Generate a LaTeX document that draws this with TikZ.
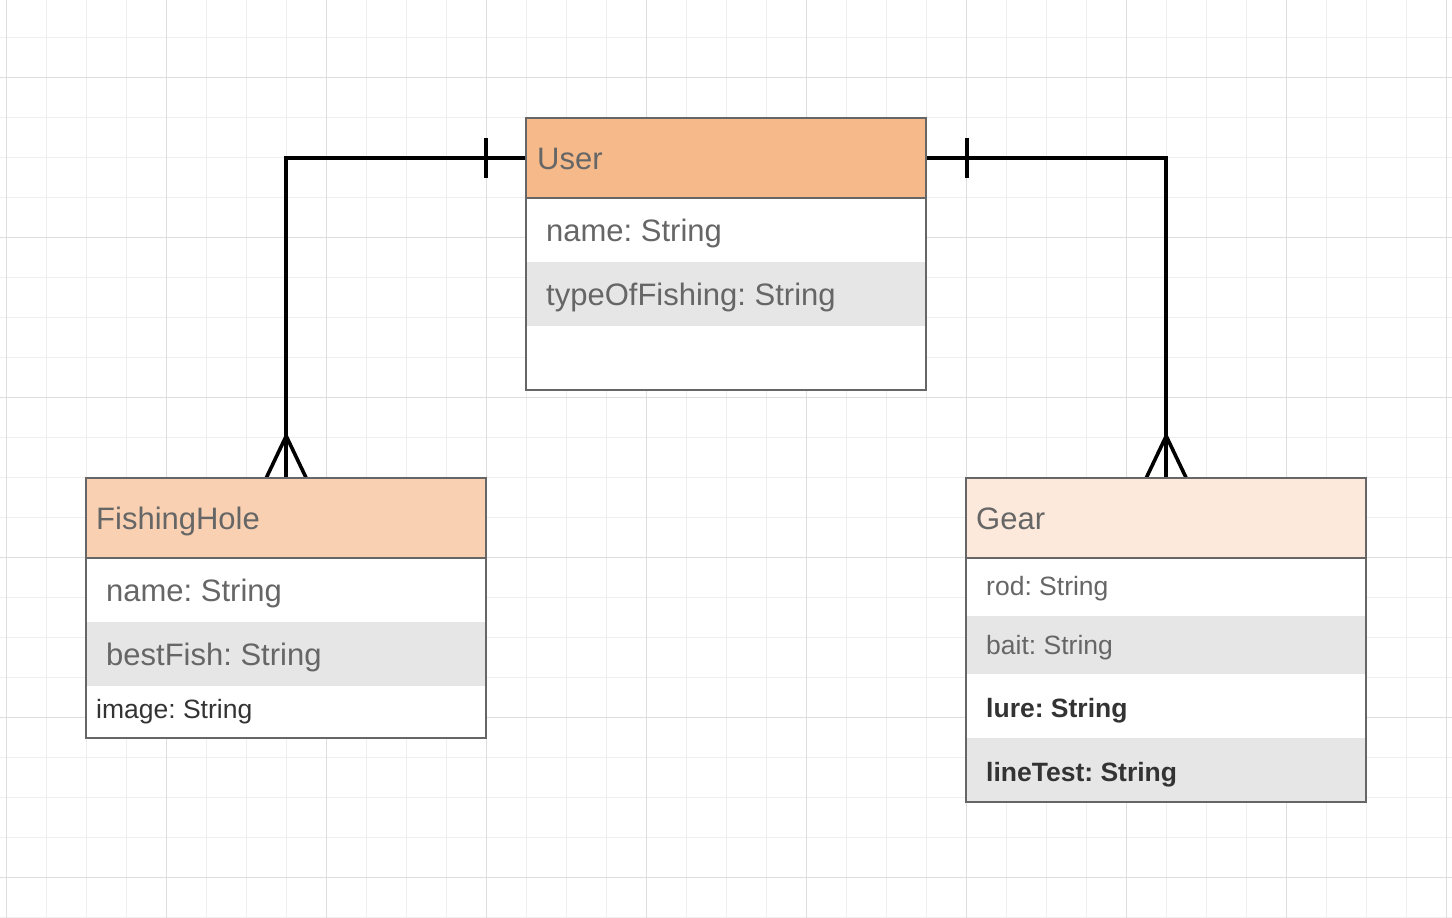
\documentclass[tikz,border=0pt]{standalone}
\usepackage{fontspec}
\setmainfont{Liberation Sans}
\usetikzlibrary{calc}
\definecolor{gridminor}{HTML}{EFEFEF}
\definecolor{gridmajor}{HTML}{DEDEDE}
\definecolor{userc}{HTML}{F5B98A}
\definecolor{fhc}{HTML}{F9D1B2}
\definecolor{gearc}{HTML}{FCE9DB}
\definecolor{rowgray}{HTML}{E6E6E6}
\definecolor{boxborder}{HTML}{666666}
\definecolor{txtgray}{HTML}{666666}
\definecolor{txtdark}{HTML}{333333}
\frenchspacing
\begin{document}
\begin{tikzpicture}[x=1pt,y=-1pt,
  minorline/.style={draw=gridminor, line width=1pt},
  majorline/.style={draw=gridmajor, line width=1pt},
  hdr/.style={draw=none, inner sep=0pt, minimum width=400pt, minimum height=80pt, anchor=north west},
  row/.style={draw=none, inner sep=0pt, minimum width=400pt, anchor=north west},
  frame/.style={draw=boxborder, line width=2pt},
  bigtxt/.style={font=\fontsize{31}{37}\selectfont, text=txtgray, inner sep=0pt, anchor=base west},
  smalltxt/.style={font=\fontsize{26.5}{32}\selectfont, text=txtgray, inner sep=0pt, anchor=base west},
  darktxt/.style={font=\fontsize{26.5}{32}\selectfont, text=txtdark, inner sep=0pt, anchor=base west},
  boldtxt/.style={font=\fontsize{26.5}{32}\selectfont\bfseries, text=txtdark, inner sep=0pt, anchor=base west},
  rel/.style={draw=black, line width=3.6pt},
  tick/.style={draw=black, line width=4pt},
  foot/.style={draw=black, line width=3.6pt, line join=bevel}
]
\useasboundingbox (0,0) rectangle (1452,918);
\fill[white] (0,0) rectangle (1452,918);
% grid
\foreach \i in {0,...,36} \draw[minorline] ({6.5+40*\i},0) -- ({6.5+40*\i},918);
\foreach \j in {1,...,23} \draw[minorline] (0,{-3+40*\j}) -- (1452,{-3+40*\j});
\foreach \i in {0,...,9} \draw[majorline] ({6.5+160*\i},0) -- ({6.5+160*\i},918);
\foreach \j in {0,...,5} \draw[majorline] (0,{77+160*\j}) -- (1452,{77+160*\j});

% User
\node[hdr, fill=userc] (userhd) at (526,118) {};
\node[row, fill=white, minimum height=64pt] (urow1) at (526,198) {};
\node[row, fill=rowgray, minimum height=64pt] (urow2) at (526,262) {};
\node[row, fill=white, minimum height=64pt] (urow3) at (526,326) {};

% FishingHole
\node[hdr, fill=fhc] (fhhd) at (86,478) {};
\node[row, fill=white, minimum height=64pt] (frow1) at (86,558) {};
\node[row, fill=rowgray, minimum height=64pt] (frow2) at (86,622) {};
\node[row, fill=white, minimum height=52pt] (frow3) at (86,686) {};

% Gear
\node[hdr, fill=gearc] (gearhd) at (966,478) {};
\node[row, fill=white, minimum height=58pt] (grow1) at (966,558) {};
\node[row, fill=rowgray, minimum height=58pt] (grow2) at (966,616) {};
\node[row, fill=white, minimum height=64pt] (grow3) at (966,674) {};
\node[row, fill=rowgray, minimum height=64pt] (grow4) at (966,738) {};

% connectors
\coordinate (ltick) at ($(userhd.west)+(-40,0)$);
\coordinate (rtick) at ($(userhd.east)+(41,0)$);
\draw[rel] (userhd.west) -- (userhd.west -| fhhd.north) -- (fhhd.north);
\draw[tick] ($(ltick)+(0,-20)$) -- ($(ltick)+(0,20)$);
\draw[foot] ($(fhhd.north)+(-20,0)$) -- ($(fhhd.north)+(0,-42)$) -- ($(fhhd.north)+(20,0)$);
\draw[rel] (userhd.east) -- (userhd.east -| gearhd.north) -- (gearhd.north);
\draw[tick] ($(rtick)+(0,-20)$) -- ($(rtick)+(0,20)$);
\draw[foot] ($(gearhd.north)+(-20,0)$) -- ($(gearhd.north)+(0,-42)$) -- ($(gearhd.north)+(20,0)$);

% frames
\draw[frame] (userhd.north west) rectangle (urow3.south east);
\draw[frame] (userhd.south west) -- (userhd.south east);
\draw[frame] (fhhd.north west) rectangle (frow3.south east);
\draw[frame] (fhhd.south west) -- (fhhd.south east);
\draw[frame] (gearhd.north west) rectangle (grow4.south east);
\draw[frame] (gearhd.south west) -- (gearhd.south east);

% texts
\node[bigtxt] (utitle) at (537,169) {User};
\node[bigtxt] (uname) at (546,241) {name: String};
\node[bigtxt] (utype) at (546,305) {typeOfFishing: String};

\node[bigtxt] (ftitle) at (96,529) {FishingHole};
\node[bigtxt] (fname) at (106,601) {name: String};
\node[bigtxt] (fbest) at (106,665) {bestFish: String};
\node[darktxt] (fimage) at (96,718) {image: String};

\node[bigtxt] (gtitle) at (976,529) {Gear};
\node[smalltxt] (grod) at (986,595) {rod: String};
\node[smalltxt] (gbait) at (986,654) {bait: String};
\node[boldtxt] (glure) at (986,717) {lure: String};
\node[boldtxt] (gline) at (986,781) {lineTest: String};
\end{tikzpicture}
\end{document}
